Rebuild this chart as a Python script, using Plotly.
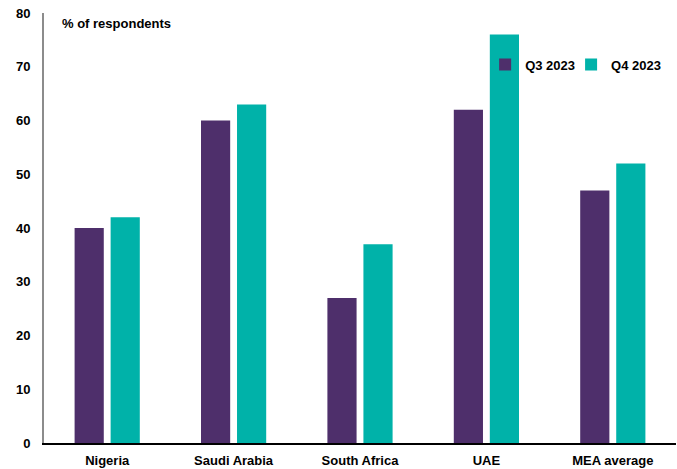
import plotly.graph_objects as go

categories = ["Nigeria", "Saudi Arabia", "South Africa", "UAE", "MEA average"]
q3_2023 = [40, 60, 27, 62, 47]
q4_2023 = [42, 63, 37, 76, 52]
y_ticks = [0, 10, 20, 30, 40, 50, 60, 70, 80]

PURPLE = "#4e2f6b"
TEAL = "#00b2a9"
FONT = "Liberation Sans, Arial, sans-serif"

fig = go.Figure()
fig.add_trace(go.Bar(name="Q3 2023", x=categories, y=q3_2023, legend="legend",
                     marker=dict(color=PURPLE, line=dict(width=0))))
fig.add_trace(go.Bar(name="Q4 2023", x=categories, y=q4_2023, legend="legend2",
                     marker=dict(color=TEAL, line=dict(width=0))))

legend_style = dict(orientation="h", xanchor="left", y=0.88, yanchor="middle",
                    font=dict(family=FONT, size=13, color="black", weight="bold"),
                    bgcolor="rgba(0,0,0,0)", itemwidth=30)

fig.update_layout(
    width=677, height=469,
    margin=dict(l=44, r=1, t=13, b=26, autoexpand=False),
    paper_bgcolor="white", plot_bgcolor="white",
    barmode="group", bargap=0.43, bargroupgap=0.19,
    font=dict(family=FONT, size=13, color="black"),
    showlegend=True,
    legend=dict(x=0.698, **legend_style),
    legend2=dict(x=0.834, **legend_style),
    annotations=[dict(text="<b>% of respondents</b>", xref="paper", yref="paper",
                      x=0.025, y=0.975, xanchor="left", yanchor="middle",
                      showarrow=False, font=dict(family=FONT, size=13, color="black"))],
)
fig.update_yaxes(range=[0, 80], tickvals=y_ticks, showgrid=False, zeroline=False,
                 showline=True, linecolor="#8c8c8c", linewidth=2,
                 ticks="", ticklabelstandoff=9,
                 tickfont=dict(family=FONT, size=13, color="black", weight="bold"))
fig.update_xaxes(showgrid=False, showline=True, linecolor="black", linewidth=1.5,
                 ticks="", ticklabelstandoff=5,
                 tickfont=dict(family=FONT, size=13, color="black", weight="bold"))

fig.write_html("out.html")
